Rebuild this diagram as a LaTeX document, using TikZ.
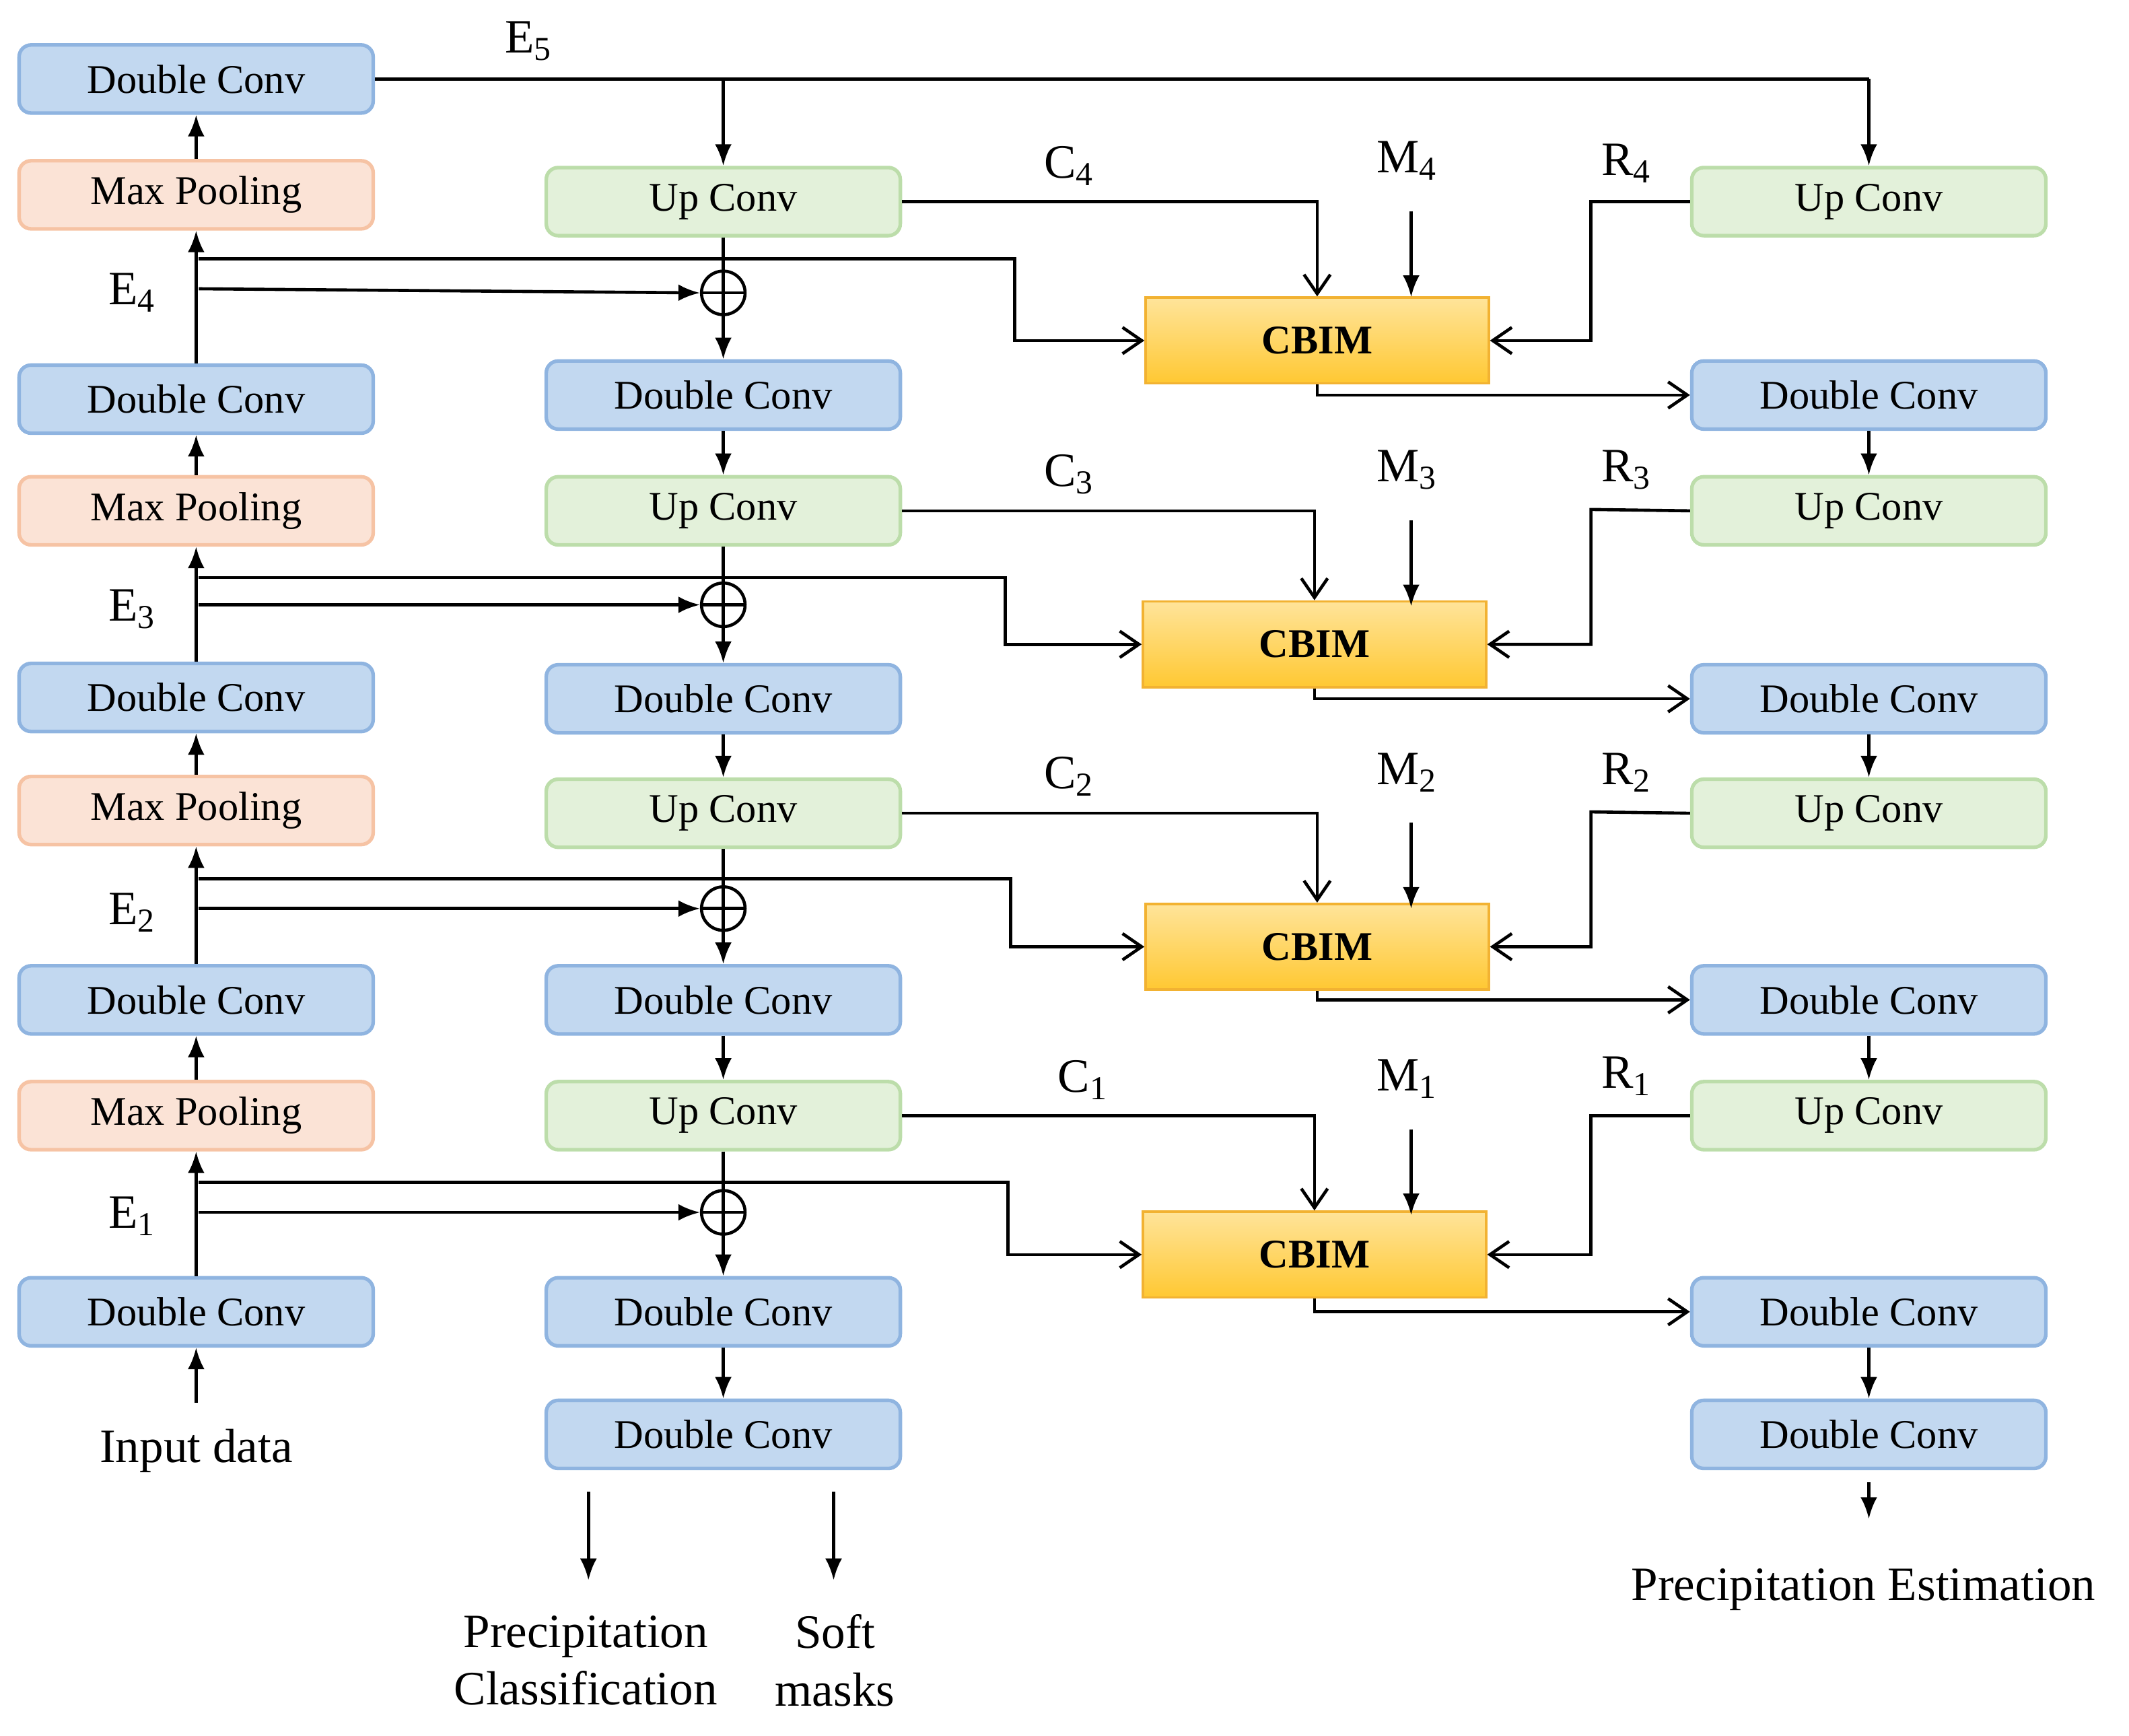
\documentclass[tikz,border=0pt]{standalone}
\usepackage{fontspec}
\setmainfont{Liberation Serif}
\usetikzlibrary{arrows.meta}
\definecolor{bF}{HTML}{C2D8F0}\definecolor{bD}{HTML}{8FB4E0}
\definecolor{pF}{HTML}{FBE3D6}\definecolor{pD}{HTML}{F6C3A4}
\definecolor{gF}{HTML}{E3F1DA}\definecolor{gD}{HTML}{BCDDAA}
\definecolor{cT}{HTML}{FFE49A}\definecolor{cB}{HTML}{FFC832}\definecolor{cD}{HTML}{F2B232}
\begin{document}
\begin{tikzpicture}[x=0.02cm,y=-0.02cm,
 box/.style={rounded corners=5pt,line width=1.5pt,minimum width=5.2cm,minimum height=1cm,font=\fontsize{17}{20}\selectfont},
 dc/.style={box,fill=bF,draw=bD},
 mp/.style={box,fill=pF,draw=pD},
 uc/.style={box,fill=gF,draw=gD},
 cb/.style={line width=1pt,draw=cD,top color=cT,bottom color=cB,minimum width=5.04cm,minimum height=1.26cm,font=\fontsize{17}{20}\selectfont\bfseries},
 lab/.style={font=\fontsize{20}{24}\selectfont},
 ar/.style={line width=1.3pt,-{Latex[length=9pt,width=7pt]}},
 oa/.style={line width=1.3pt,-{Straight Barb[length=8pt,width=11pt]}},
 ln/.style={line width=1.3pt}]
\useasboundingbox (0,0) rectangle (1563,1274);
% left column
\node[dc] (L5) at (144,58) {Double Conv};
\node[mp] (P4) at (144,143) {Max Pooling};
\node[dc] (L4) at (144,293) {Double Conv};
\node[mp] (P3) at (144,375) {Max Pooling};
\node[dc] (L3) at (144,512) {Double Conv};
\node[mp] (P2) at (144,595) {Max Pooling};
\node[dc] (L2) at (144,734) {Double Conv};
\node[mp] (P1) at (144,819) {Max Pooling};
\node[dc] (L1) at (144,963) {Double Conv};
\node[lab] (in) at (144,1065) {Input data};
\coordinate (inA) at (144,1030);
\draw[ar] (inA) -- (L1);
\draw[ar] (P4) -- (L5); \draw[ar] (P3) -- (L4); \draw[ar] (P2) -- (L3); \draw[ar] (P1) -- (L2);
\draw[ar] (L4) -- (P4); \draw[ar] (L3) -- (P3); \draw[ar] (L2) -- (P2); \draw[ar] (L1) -- (P1);
% middle column
\node[uc] (MU4) at (531,148) {Up Conv};
\node[dc] (MD4) at (531,290) {Double Conv};
\node[uc] (MU3) at (531,375) {Up Conv};
\node[dc] (MD3) at (531,513) {Double Conv};
\node[uc] (MU2) at (531,597) {Up Conv};
\node[dc] (MD2) at (531,734) {Double Conv};
\node[uc] (MU1) at (531,819) {Up Conv};
\node[dc] (MD1) at (531,963) {Double Conv};
\node[dc] (MD0) at (531,1053) {Double Conv};
% right column
\node[uc] (RU4) at (1372,148) {Up Conv};
\node[dc] (RD4) at (1372,290) {Double Conv};
\node[uc] (RU3) at (1372,375) {Up Conv};
\node[dc] (RD3) at (1372,513) {Double Conv};
\node[uc] (RU2) at (1372,597) {Up Conv};
\node[dc] (RD2) at (1372,734) {Double Conv};
\node[uc] (RU1) at (1372,819) {Up Conv};
\node[dc] (RD1) at (1372,963) {Double Conv};
\node[dc] (RD0) at (1372,1053) {Double Conv};
% CBIM
\node[cb] (C4) at (967,250) {CBIM};
\node[cb] (C3) at (965,473) {CBIM};
\node[cb] (C2) at (967,695) {CBIM};
\node[cb] (C1) at (965,921) {CBIM};
% E5
\node[lab] (e5) at (388,30) {E\textsubscript{5}};
\coordinate (t1) at (531,58); \coordinate (t2) at (1372,58);
\draw[ln] (L5.east) -- (t2);
\draw[ar] (t1) -- (MU4); \draw[ar] (t2) -- (RU4);
% sum nodes
\foreach \i/\y in {4/215,3/444,2/667,1/890}{
 \node[circle,draw,line width=1.3pt,minimum size=0.64cm,inner sep=0pt] (S\i) at (531,\y) {};
 \draw[ln] (S\i.north) -- (S\i.south); \draw[ln] (S\i.west) -- (S\i.east);
}
\draw[ln] (MU4) -- (S4); \draw[ar] (S4) -- (MD4);
\draw[ln] (MU3) -- (S3); \draw[ar] (S3) -- (MD3);
\draw[ln] (MU2) -- (S2); \draw[ar] (S2) -- (MD2);
\draw[ln] (MU1) -- (S1); \draw[ar] (S1) -- (MD1);
\draw[ar] (MD4) -- (MU3); \draw[ar] (MD3) -- (MU2); \draw[ar] (MD2) -- (MU1); \draw[ar] (MD1) -- (MD0);
\draw[ar] (RD4) -- (RU3); \draw[ar] (RD3) -- (RU2); \draw[ar] (RD2) -- (RU1); \draw[ar] (RD1) -- (RD0);
% skip branches
\foreach \i/\ya/\yb/\cx/\ey in {4/190/212/745/215,3/424/444/738/447,2/645/667/742/670,1/868/890/740/893}{
 \coordinate (ba\i) at (146,\ya); \coordinate (bb\i) at (146,\yb);
 \draw[oa] (ba\i) -- (\cx,\ya) |- (C\i.west);
 \draw[ar] (bb\i) -- (S\i.west);
 \node[lab] (E\i) at (97,\ey) {E\textsubscript{\i}};
}
% C, M, R
\foreach \i/\cy/\my/\ry/\lx in {4/122/118/120/785,3/348/345/345/785,2/570/567/567/785,1/793/792/790/795}{
 \draw[oa] (MU\i.east) -| (C\i.north);
 \node[lab] (Cl\i) at (\lx,\cy) {C\textsubscript{\i}};
 \node[lab] (Ml\i) at (1033,\my) {M\textsubscript{\i}};
 \draw[ar] (1036,\my+37) coordinate (mm\i) -- (1036,\my+100) coordinate (mt\i);
 \node[lab] (Rl\i) at (1194,\ry) {R\textsubscript{\i}};
 \draw[oa] (RU\i.west) -- (1168,\cy+26) coordinate (rc\i) |- (C\i.east);
 \draw[oa] (C\i.south) |- (RD\i.west);
}
% outputs
\coordinate (o1a) at (432,1095); \coordinate (o1b) at (432,1160);
\coordinate (o2a) at (612,1095); \coordinate (o2b) at (612,1160);
\draw[ar] (o1a) -- (o1b); \draw[ar] (o2a) -- (o2b);
\node[lab,align=center] (pc) at (430,1219) {Precipitation\\Classification};
\node[lab,align=center] (sm) at (613,1219) {Soft\\masks};
\coordinate (o3a) at (1372,1088); \coordinate (o3b) at (1372,1115);
\draw[ar] (o3a) -- (o3b);
\node[lab] (pe) at (1368,1167) {Precipitation Estimation};
\end{tikzpicture}
\end{document}
